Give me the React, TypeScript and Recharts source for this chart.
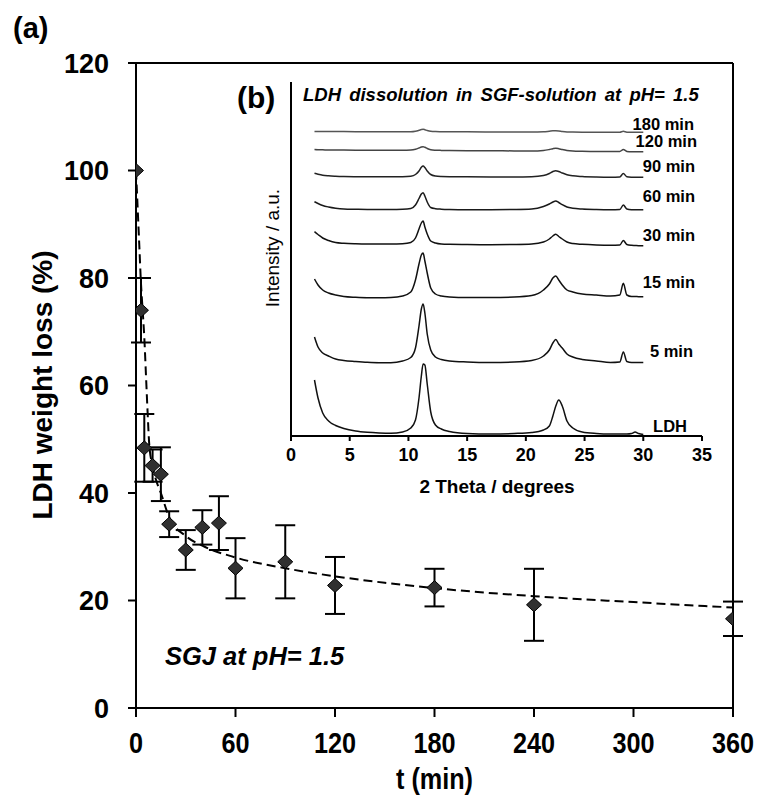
import React from 'react';
import { ComposedChart, LineChart, Line, Scatter, XAxis, YAxis, ErrorBar, ReferenceLine } from 'recharts';

// ---- main chart data ----
const times = [0, 3, 5, 10, 15, 20, 30, 40, 50, 60, 90, 120, 180, 240, 360];
const weightLoss = [100, 74, 48.4, 45.1, 43.5, 34.2, 29.4, 33.6, 34.4, 26, 27.2, 22.8, 22.4, 19.2, 16.6];
const weightErr = [0, 6, 6.3, 3, 5, 2.4, 3.7, 3.2, 5, 5.6, 6.8, 5.3, 3.5, 6.7, 3.2];

const fitTimes = [0, 1, 2, 3, 4, 5, 6, 7, 8, 10, 12, 15, 20, 30, 40, 60, 90, 120, 150, 180, 240, 300, 360];
const fitValues = [100, 93, 86, 79, 74, 69, 62, 55, 49, 45, 42.5, 40, 35.5, 32, 30.2, 28, 26, 24.5, 23.3, 22.3, 20.8, 19.7, 18.7];

const xTicks = [0, 60, 120, 180, 240, 300, 360];
const yTicks = [0, 20, 40, 60, 80, 100, 120];

// ---- inset (XRD) data ----
const insetTicks = [0, 5, 10, 15, 20, 25, 30, 35];
const twoTheta = [2, 2.3, 2.7, 3.2, 3.8, 4.5, 5.5, 6.5, 7.5, 8.5, 9.5, 10.2, 10.6, 10.9, 11.1, 11.25, 11.4, 11.6, 11.9, 12.3, 12.8, 13.5, 15, 17, 19, 20.5, 21.5, 22, 22.3, 22.55, 22.8, 23.1, 23.5, 24, 24.8, 26, 27.2, 28, 28.3, 28.6, 29, 29.3, 29.6, 30];

const xrdLDH = [56, 38, 23, 15, 10.5, 7.5, 5, 3.7, 3, 2.7, 4, 8, 16, 38, 60, 72, 71, 52, 24, 11, 7, 4.5, 2.5, 2, 2.5, 3.5, 6, 10, 20, 30, 36, 30, 15, 8, 4, 2.5, 2, 2, 2, 2, 2.5, 4, 2.5, 1.5];
const xrd5 = [99, 89, 83, 80, 77, 75.5, 74.5, 73.7, 73.3, 73.3, 75, 78.5, 88, 110, 127, 132, 123, 102, 86, 79, 76.5, 75, 74, 73.5, 74, 75.5, 80, 86, 93, 96.5, 92, 88, 82, 79, 76.5, 75, 73.5, 74, 84, 74.5, 73.5, 73.5, 73.5, 73.5];
const xrd15 = [157, 151, 146, 143, 141, 139.5, 138.7, 138.3, 138.3, 138.5, 140, 144, 156, 172, 181, 183, 175, 163, 148, 142, 140, 139, 138.5, 138.5, 139, 140.5, 146, 152, 158, 160, 156, 151, 146, 144, 142, 141, 140, 141, 152.7, 141, 139.5, 139.5, 139.3, 139.3];
const xrd30 = [204.3, 201.5, 198, 195.5, 193.5, 192.7, 192.2, 192, 192, 192, 192.3, 193.5, 198, 207, 213, 215, 209, 202, 195, 193, 192, 191.7, 191.5, 191.3, 191.5, 192, 194, 197, 200, 201.7, 199.5, 197, 194, 192.5, 191.7, 191, 190.7, 191, 195.5, 191.5, 190.7, 190.5, 190.3, 190.3];
const xrd60 = [234.3, 232.5, 230.5, 229, 227.8, 227, 226.7, 226.5, 226.5, 226.5, 226.7, 227.5, 231, 237.5, 242, 243.3, 240, 234, 228.5, 227.3, 226.8, 226.5, 226.3, 226.3, 226.5, 227, 229.5, 232, 234, 235, 233.5, 231.3, 229, 227.8, 227, 226.5, 226.3, 226.5, 231, 227, 226.3, 226.2, 226.2, 226.2];
const xrd90 = [262.7, 261.8, 260.8, 260.2, 259.8, 259.5, 259.3, 259.2, 259.2, 259.2, 259.3, 259.8, 261.5, 265, 268.8, 270, 268.5, 265, 261.5, 260, 259.5, 259.3, 259.2, 259.1, 259.1, 259.3, 260.5, 262.5, 264.5, 265.3, 264.5, 263, 261.3, 260.2, 259.5, 259, 258.8, 259, 262.5, 259.3, 258.8, 258.7, 258.7, 258.7];
const xrd120 = [286.5, 286.3, 286.2, 286, 286, 285.9, 285.8, 285.8, 285.7, 285.7, 285.7, 285.9, 286.7, 288, 289, 289.3, 288.7, 287.5, 286.3, 285.8, 285.6, 285.5, 285.3, 285.2, 285.1, 285, 285.5, 286.5, 287.3, 287.7, 287.3, 286.5, 285.6, 285, 284.7, 284.5, 284.4, 284.5, 286.5, 284.6, 284.3, 284.3, 284.3, 284.3];
const xrd180 = [304.5, 304.4, 304.4, 304.4, 304.4, 304.4, 304.3, 304.3, 304.3, 304.3, 304.3, 304.3, 304.8, 305.7, 306.4, 306.7, 306.3, 305.5, 304.7, 304.4, 304.3, 304.2, 304.2, 304.1, 304.1, 304, 304.2, 304.8, 305.2, 305.3, 305.1, 304.6, 304.1, 303.9, 303.8, 303.8, 303.8, 303.8, 304.7, 303.8, 303.7, 303.7, 303.7, 303.7];

const xrdSeries = [
  { name: 'LDH', values: xrdLDH, color: '#111' },
  { name: '5 min', values: xrd5, color: '#111' },
  { name: '15 min', values: xrd15, color: '#111' },
  { name: '30 min', values: xrd30, color: '#111' },
  { name: '60 min', values: xrd60, color: '#1a1a1a' },
  { name: '90 min', values: xrd90, color: '#222' },
  { name: '120 min', values: xrd120, color: '#444' },
  { name: '180 min', values: xrd180, color: '#555' },
];

const points = times.map((t, i) => ({ t, v: weightLoss[i], err: weightErr[i] }));
const fit = fitTimes.map((t, i) => ({ t, v: fitValues[i] }));

const FONT = 'Liberation Sans, Arial, sans-serif';

const Diamond = (props: any) => {
  const { cx, cy } = props;
  if (cx == null || cy == null) return null;
  return (
    <path
      d={`M${cx},${cy - 7} L${cx + 7.5},${cy} L${cx},${cy + 7} L${cx - 7.5},${cy} Z`}
      fill="#303030"
      stroke="#000"
      strokeWidth={1}
    />
  );
};

const XTick = (props: any) => {
  const { x, y, payload } = props;
  return (
    <g transform={`translate(${x},${y + 36}) scale(0.87,1)`}>
      <text x={0} y={0} textAnchor="middle" fontFamily={FONT} fontWeight="bold" fontSize={29} fill="#000">
        {payload.value}
      </text>
    </g>
  );
};

const YTick = (props: any) => {
  const { x, y, payload } = props;
  return (
    <text x={x - 19} y={y + 9.7} textAnchor="end" fontFamily={FONT} fontWeight="bold" fontSize={27} fill="#000">
      {payload.value}
    </text>
  );
};

const InsetTick = (props: any) => {
  const { x, y, payload } = props;
  return (
    <text x={x} y={y + 20} textAnchor="middle" fontFamily={FONT} fontWeight="bold" fontSize={18} fill="#000">
      {payload.value}
    </text>
  );
};

const curveLabels = [
  { text: '180 min', x: 694, y: 130 },
  { text: '120 min', x: 697, y: 146.6 },
  { text: '90 min', x: 695, y: 172 },
  { text: '60 min', x: 695, y: 201.6 },
  { text: '30 min', x: 695, y: 241 },
  { text: '15 min', x: 695, y: 288 },
  { text: '5 min', x: 693, y: 357 },
  { text: 'LDH', x: 687, y: 432 },
];

export default function App() {
  return (
    <div style={{ position: 'absolute', left: 0, top: 0, width: 761, height: 805, background: '#fff' }}>
      <div style={{ position: 'absolute', left: 0, top: 0 }}>
        <ComposedChart width={761} height={805} margin={{ top: 63, right: 28, bottom: 0, left: 0 }}>
          <XAxis
            type="number"
            dataKey="t"
            domain={[0, 360]}
            ticks={xTicks}
            height={97}
            tickSize={9}
            tickMargin={0}
            tick={<XTick />}
            axisLine={{ stroke: '#000', strokeWidth: 2 }}
            tickLine={{ stroke: '#000', strokeWidth: 2 }}
            allowDataOverflow
          />
          <YAxis
            type="number"
            dataKey="v"
            domain={[0, 120]}
            ticks={yTicks}
            width={136}
            tickSize={8}
            tickMargin={0}
            tick={<YTick />}
            axisLine={{ stroke: '#000', strokeWidth: 2 }}
            tickLine={{ stroke: '#000', strokeWidth: 2 }}
            allowDataOverflow
          />
          <ReferenceLine y={120} stroke="#000" strokeWidth={2} />
          <ReferenceLine x={360} stroke="#000" strokeWidth={2} />
          <Line
            data={fit}
            dataKey="v"
            type="monotone"
            stroke="#000"
            strokeWidth={2}
            strokeDasharray="9 5"
            dot={false}
            activeDot={false}
            isAnimationActive={false}
          />
          <Scatter data={points} dataKey="v" shape={<Diamond />} isAnimationActive={false}>
            <ErrorBar dataKey="err" direction="y" width={10} stroke="#000" strokeWidth={2} />
          </Scatter>
        </ComposedChart>
      </div>

      <div style={{ position: 'absolute', left: 0, top: 0 }}>
        <LineChart width={761} height={805} margin={{ top: 82, right: 59, bottom: 329, left: 271 }}>
          <XAxis
            type="number"
            dataKey="x"
            domain={[0, 35]}
            ticks={insetTicks}
            height={40}
            tickSize={5}
            tickMargin={0}
            tick={<InsetTick />}
            axisLine={{ stroke: '#000', strokeWidth: 2 }}
            tickLine={{ stroke: '#000', strokeWidth: 2 }}
            allowDataOverflow
          />
          <YAxis
            type="number"
            dataKey="y"
            domain={[0, 354]}
            width={20}
            tick={false}
            tickLine={false}
            axisLine={{ stroke: '#000', strokeWidth: 2 }}
            allowDataOverflow
          />
          {xrdSeries.map((s) => (
            <Line
              key={s.name}
              name={s.name}
              data={twoTheta.map((x, i) => ({ x, y: s.values[i] }))}
              dataKey="y"
              type="monotone"
              stroke={s.color}
              strokeWidth={1.5}
              dot={false}
              activeDot={false}
              isAnimationActive={false}
            />
          ))}
        </LineChart>
      </div>

      <svg width={761} height={805} style={{ position: 'absolute', left: 0, top: 0, pointerEvents: 'none' }}>
        <g fontFamily={FONT} fill="#000">
          <text x={13} y={38} fontSize={29} fontWeight="bold">(a)</text>
          <text x={237} y={108} fontSize={30} fontWeight="bold">(b)</text>
          <text x={303} y={100.6} fontSize={18.5} fontWeight="bold" fontStyle="italic" wordSpacing={3}>
            LDH dissolution in SGF-solution at pH= 1.5
          </text>
          <text x={52} y={385} fontSize={28} fontWeight="bold" textAnchor="middle" transform="rotate(-90 52 385)">
            LDH weight loss (%)
          </text>
          <text x={279} y={248} fontSize={19} textAnchor="middle" transform="rotate(-90 279 248)">
            Intensity / a.u.
          </text>
          <text x={497} y={493} fontSize={19} fontWeight="bold" textAnchor="middle">2 Theta / degrees</text>
          <text x={165} y={665} fontSize={25.5} fontWeight="bold" fontStyle="italic">SGJ at pH= 1.5</text>
          <g transform="translate(434.5,789) scale(0.87,1)">
            <text x={0} y={0} fontSize={29} fontWeight="bold" textAnchor="middle">t (min)</text>
          </g>
          {curveLabels.map((l) => (
            <text key={l.text} x={l.x} y={l.y} fontSize={16.5} fontWeight="bold" textAnchor="end">
              {l.text}
            </text>
          ))}
        </g>
      </svg>
    </div>
  );
}
